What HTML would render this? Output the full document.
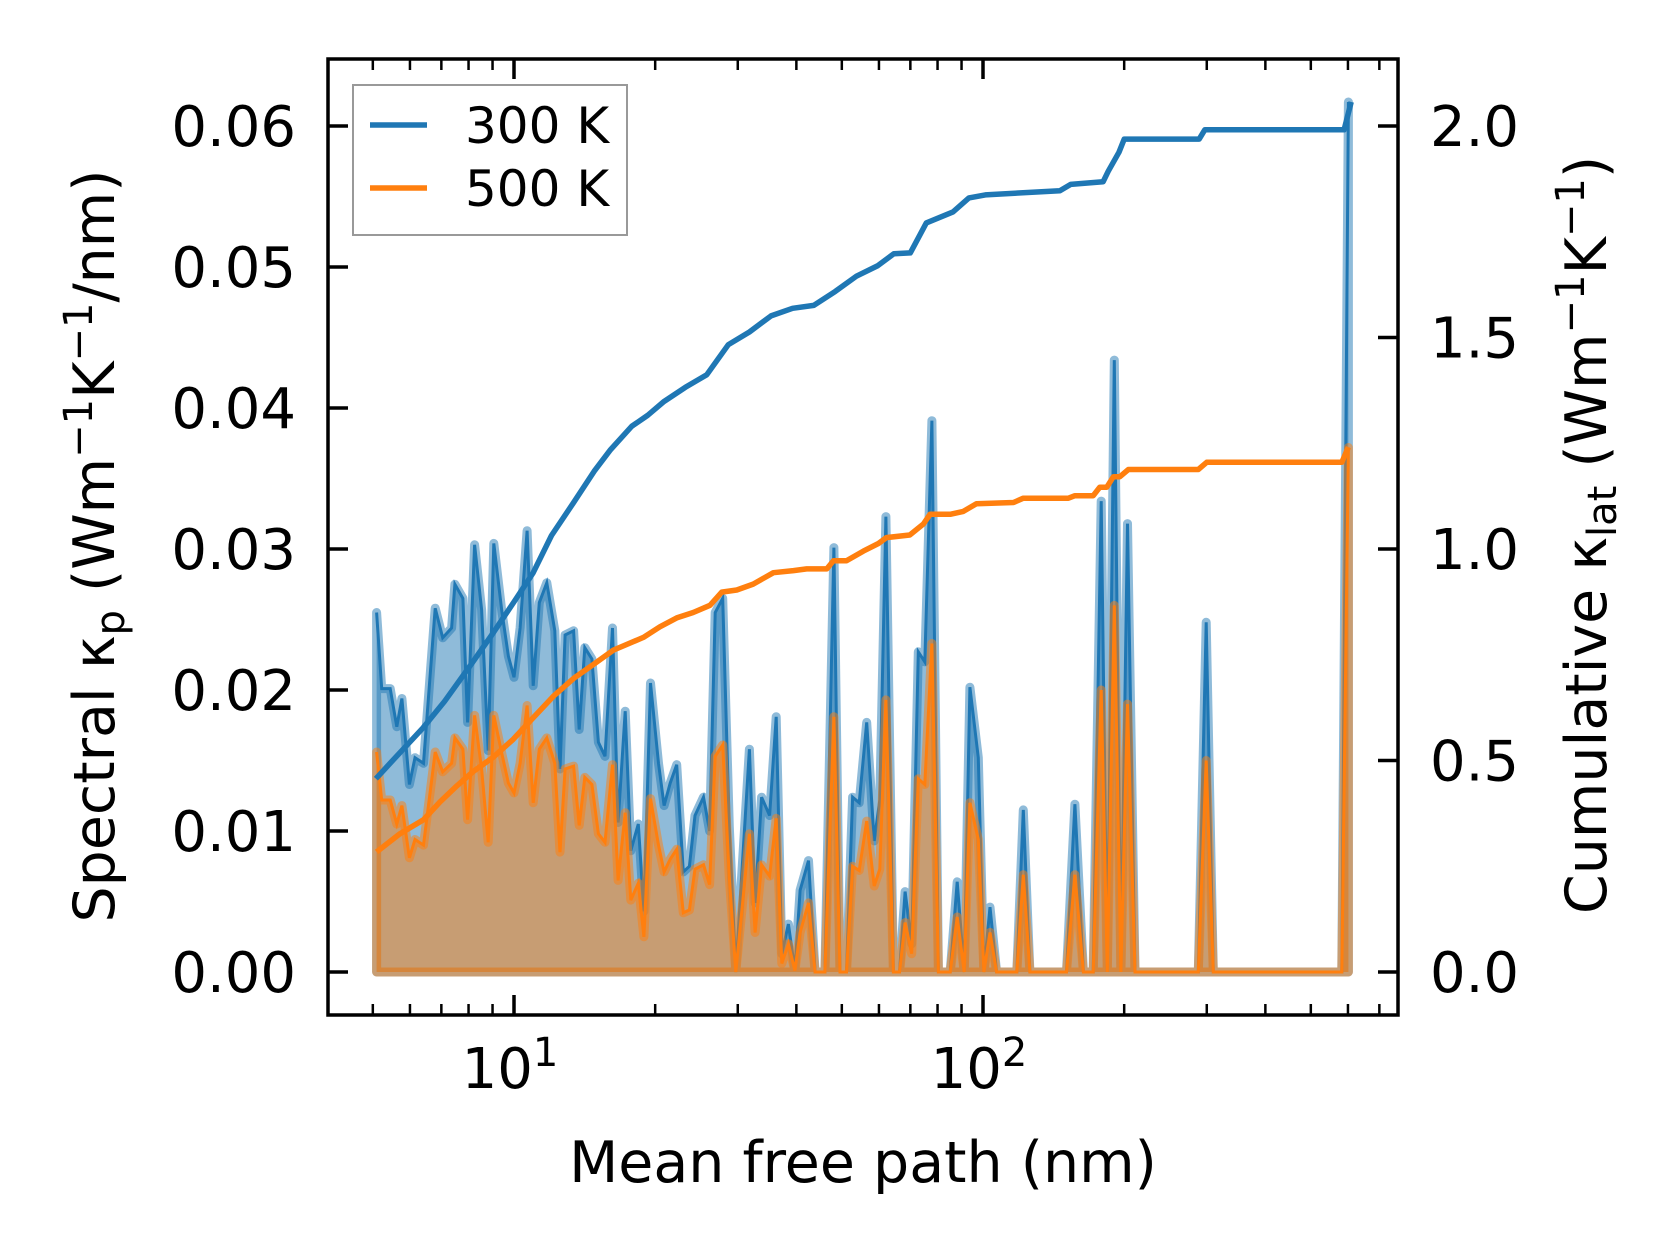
<!DOCTYPE html>
<html><head><meta charset="utf-8"><style>
html,body{margin:0;padding:0;background:#fff;}
svg{display:block;font-family:"DejaVu Sans","Liberation Sans",sans-serif;}
</style></head><body>
<svg id="chart" width="1679" height="1254" viewBox="0 0 1679 1254" xmlns="http://www.w3.org/2000/svg">
<rect width="1679" height="1254" fill="#fff"/>
<g id="plot"></g>
<g id="axes"></g>
</svg>
<script>
// ---- data ----
const mfpLog10 = [0.707,0.718,0.736,0.750,0.761,0.777,0.789,0.807,0.832,0.848,0.867,0.874,0.891,0.901,0.916,0.931,0.945,0.957,0.974,0.988,1.000,1.013,1.028,1.041,1.054,1.070,1.087,1.098,1.109,1.127,1.139,1.151,1.166,1.180,1.194,1.210,1.222,1.237,1.249,1.265,1.277,1.291,1.308,1.320,1.333,1.347,1.361,1.374,1.386,1.404,1.417,1.429,1.445,1.459,1.473,1.502,1.514,1.528,1.545,1.559,1.571,1.585,1.599,
1.610,1.628,1.642,1.663,1.682,1.695,1.709,1.722,1.736,1.752,1.768,1.780,1.793,1.809,1.822,1.834,1.848,1.862,1.876,1.891,1.905,1.930,1.945,1.960,1.972,1.990,2.002,2.015,2.029,2.072,2.086,2.100,
2.178,2.196,2.214,2.235,2.252,2.265,2.280,2.294,2.308,2.324,2.459,2.476,2.491,2.765,2.779];
const spectral300 = [.0255,.0201,.0201,.0174,.0194,.0133,.0152,.0148,.0258,.0237,.0244,.0275,.0265,.0177,.0303,.0257,.0157,.0304,.0256,.0224,.0209,.0244,.0313,.0203,.0262,.0276,.0242,.0144,.0239,.0242,.0172,.0230,.0222,.0163,.0153,.0244,.0106,.0185,.0086,.0105,.0043,.0205,.0148,.0118,.0134,.0147,.0071,.0075,.0111,.0124,.0100,.0255,.0265,.0103,0,.0158,.0049,.0124,.0111,.0181,.0013,.0034,.0001,
.0058,.0079,0,0,.0301,0,0,.0124,.0120,.0177,.0093,.0122,.0323,0,0,.0057,.0020,.0227,.0220,.0391,0,0,.0064,0,.0202,.0152,0,.0046,0,0,.0115,0,
0,.0119,0,0,.0334,0,.0434,0,.0318,0,0,.0248,0,0,.0617];
const spectral500 = [.0156,.0122,.0122,.0105,.0118,.0081,.0094,.0090,.0156,.0142,.0148,.0166,.0158,.0108,.0182,.0144,.0092,.0182,.0155,.0134,.0127,.0148,.0189,.0120,.0158,.0166,.0148,.0085,.0144,.0146,.0104,.0138,.0133,.0098,.0092,.0147,.0065,.0113,.0051,.0063,.0025,.0123,.0090,.0071,.0080,.0087,.0042,.0044,.0073,.0076,.0062,.0153,.0161,.0067,0,.0098,.0028,.0076,.0068,.0109,.0006,.0020,.0001,
.0028,.0049,0,0,.0181,0,0,.0075,.0072,.0107,.0061,.0073,.0193,0,0,.0035,.0013,.0137,.0133,.0233,0,0,.0039,0,.0120,.0094,0,.0028,0,0,.0069,0,
0,.0069,0,0,.0200,0,.0260,0,.0190,0,0,.0150,0,0,.0372];
const cum300Log10 = [0.7055,0.737,0.806,0.852,0.909,0.954,1.000,1.041,1.080,1.126,1.171,1.206,1.251,1.285,1.320,1.365,1.411,1.457,1.502,1.548,1.594,1.639,1.685,1.730,1.776,1.810,1.845,1.879,1.936,1.970,2.005,2.164,2.187,2.256,2.267,2.290,2.301,2.461,2.473,2.770,2.785];
const cum300 = [0.457,0.495,0.577,0.640,0.728,0.799,0.875,0.944,1.032,1.108,1.184,1.235,1.290,1.316,1.349,1.382,1.412,1.483,1.513,1.551,1.569,1.576,1.609,1.645,1.670,1.698,1.700,1.771,1.797,1.830,1.837,1.847,1.862,1.868,1.893,1.938,1.969,1.969,1.991,1.991,2.057];
const cum500Log10 = [0.707,0.757,0.807,0.842,0.878,0.913,0.956,0.998,1.041,1.084,1.127,1.169,1.212,1.276,1.311,1.347,1.382,1.418,1.443,1.475,1.510,1.553,1.596,1.624,1.667,1.681,1.709,1.745,1.777,1.794,1.844,1.873,1.887,1.930,1.958,1.986,2.065,2.086,2.182,2.196,2.235,2.249,2.264,2.278,2.292,2.310,2.459,2.477,2.765,2.779];
const cum500 = [.284,.327,.360,.402,.440,.474,.508,.550,.601,.652,.694,.727,.761,.791,.816,.837,.850,.867,.898,.903,.917,.944,.949,.953,.953,.972,.972,.995,1.013,1.027,1.033,1.059,1.082,1.082,1.089,1.107,1.110,1.120,1.120,1.126,1.126,1.146,1.146,1.171,1.171,1.188,1.188,1.205,1.205,1.241];
const leftTicks = [0,0.01,0.02,0.03,0.04,0.05,0.06];
const leftTickLabels = ["0.00","0.01","0.02","0.03","0.04","0.05","0.06"];
const rightTicks = [0,0.5,1.0,1.5,2.0];
const rightTickLabels = ["0.0","0.5","1.0","1.5","2.0"];
const xMajorExp = [1,2];
const xMinor = [5,6,7,8,9,20,30,40,50,60,70,80,90,200,300,400,500,600,700];

// ---- axes geometry ----
const L=328,R=1398,T=59,B=1015;
const xs = lg => 514 + (lg-1)*469;
const yl = v => 972 - v*14100;
const yr = v => 972 - v*423;
const NS="http://www.w3.org/2000/svg";
const plot=document.getElementById('plot'), axes=document.getElementById('axes');
function mk(tag, attrs, parent){const e=document.createElementNS(NS,tag);for(const k in attrs)e.setAttribute(k,attrs[k]);parent.appendChild(e);return e;}

function fillPts(vals){
  let p=[[xs(mfpLog10[0]),yl(0)]];
  for(let i=0;i<vals.length;i++)p.push([xs(mfpLog10[i]),yl(vals[i])]);
  p.push([xs(mfpLog10[vals.length-1]),yl(0)]);
  return p.map(q=>q[0].toFixed(1)+','+q[1].toFixed(1)).join(' ');
}
function linePts(xl,vals,fy){return vals.map((v,i)=>xs(xl[i]).toFixed(1)+','+fy(v).toFixed(1)).join(' ');}

const f3=mk('polygon',{points:fillPts(spectral300),fill:'#1f77b4','fill-opacity':0.5,stroke:'#1f77b4','stroke-opacity':0.5,'stroke-width':9,'stroke-linejoin':'round'},plot);


const l3=mk('polyline',{points:linePts(mfpLog10,spectral300,yl),fill:'none',stroke:'#1f77b4','stroke-width':3},plot);


const f5=mk('polygon',{points:fillPts(spectral500),fill:'#ff7f0e','fill-opacity':0.5,stroke:'#ff7f0e','stroke-opacity':0.5,'stroke-width':9,'stroke-linejoin':'round'},plot);


const l5=mk('polyline',{points:linePts(mfpLog10,spectral500,yl),fill:'none',stroke:'#ff7f0e','stroke-width':3},plot);


const c3=mk('polyline',{points:linePts(cum300Log10,cum300,yr),fill:'none',stroke:'#1f77b4','stroke-width':5.5,'stroke-linejoin':'round'},plot);


const c5=mk('polyline',{points:linePts(cum500Log10,cum500,yr),fill:'none',stroke:'#ff7f0e','stroke-width':5.5,'stroke-linejoin':'round'},plot);



// spines
const fr=mk('rect',{x:L,y:T,width:R-L,height:B-T,fill:'none',stroke:'#000','stroke-width':3.5},axes);



// x ticks
xMajorExp.forEach(e=>{
  const x=xs(e);
  mk('line',{x1:x,y1:B,x2:x,y2:B-20,stroke:'#000','stroke-width':3.5},axes);
  mk('line',{x1:x,y1:T,x2:x,y2:T+20,stroke:'#000','stroke-width':3.5},axes);
  const t=mk('text',{x:x-4,y:1088,'font-size':56,'text-anchor':'middle'},axes);
  
  
  t.innerHTML='10<tspan dy="-22" font-size="40">'+e+'</tspan>';
});
xMinor.forEach(m=>{
  const x=xs(Math.log10(m));
  mk('line',{x1:x,y1:B,x2:x,y2:B-11,stroke:'#000','stroke-width':2.5},axes);
  mk('line',{x1:x,y1:T,x2:x,y2:T+11,stroke:'#000','stroke-width':2.5},axes);
});
// left ticks
leftTicks.forEach((v,i)=>{
  const y=yl(v);
  mk('line',{x1:L,y1:y,x2:L+20,y2:y,stroke:'#000','stroke-width':3.5},axes);
  const t=mk('text',{x:296,y:y+20,'font-size':56,'text-anchor':'end'},axes);
  
  
  t.textContent=leftTickLabels[i];
});
// right ticks
rightTicks.forEach((v,i)=>{
  const y=yr(v);
  mk('line',{x1:R,y1:y,x2:R-20,y2:y,stroke:'#000','stroke-width':3.5},axes);
  const t=mk('text',{x:1430,y:y+20,'font-size':56,'text-anchor':'start'},axes);
  
  
  t.textContent=rightTickLabels[i];
});
</script>
<svg style="position:absolute;left:0;top:0" width="1679" height="1254" xmlns="http://www.w3.org/2000/svg" font-family="DejaVu Sans, Liberation Sans, sans-serif">
  <text x="863" y="1182" font-size="57" text-anchor="middle">Mean free path (nm)</text>
  <text transform="translate(114,546) rotate(-90)" font-size="57" text-anchor="middle">Spectral κ<tspan dy="10" font-size="40">p</tspan><tspan dy="-10"> (Wm</tspan><tspan dy="-22" font-size="40">−1</tspan><tspan dy="22">K</tspan><tspan dy="-22" font-size="40">−1</tspan><tspan dy="22">/nm)</tspan></text>
  <text transform="translate(1606,535) rotate(-90)" font-size="57" text-anchor="middle">Cumulative κ<tspan dy="10" font-size="40">lat</tspan><tspan dy="-10"> (Wm</tspan><tspan dy="-22" font-size="40">−1</tspan><tspan dy="22">K</tspan><tspan dy="-22" font-size="40">−1</tspan><tspan dy="22">)</tspan></text>
  <g>
    <rect x="353" y="85" width="274" height="150" fill="#fff" fill-opacity="0.8" stroke="#999" stroke-width="2"/>
    <line x1="370" y1="125" x2="427" y2="125" stroke="#1f77b4" stroke-width="5.5"/>
    <text x="465" y="143" font-size="50">300 K</text>
    <line x1="370" y1="188" x2="427" y2="188" stroke="#ff7f0e" stroke-width="5.5"/>
    <text x="465" y="206" font-size="50">500 K</text>
  </g>
</svg>
</body></html>
